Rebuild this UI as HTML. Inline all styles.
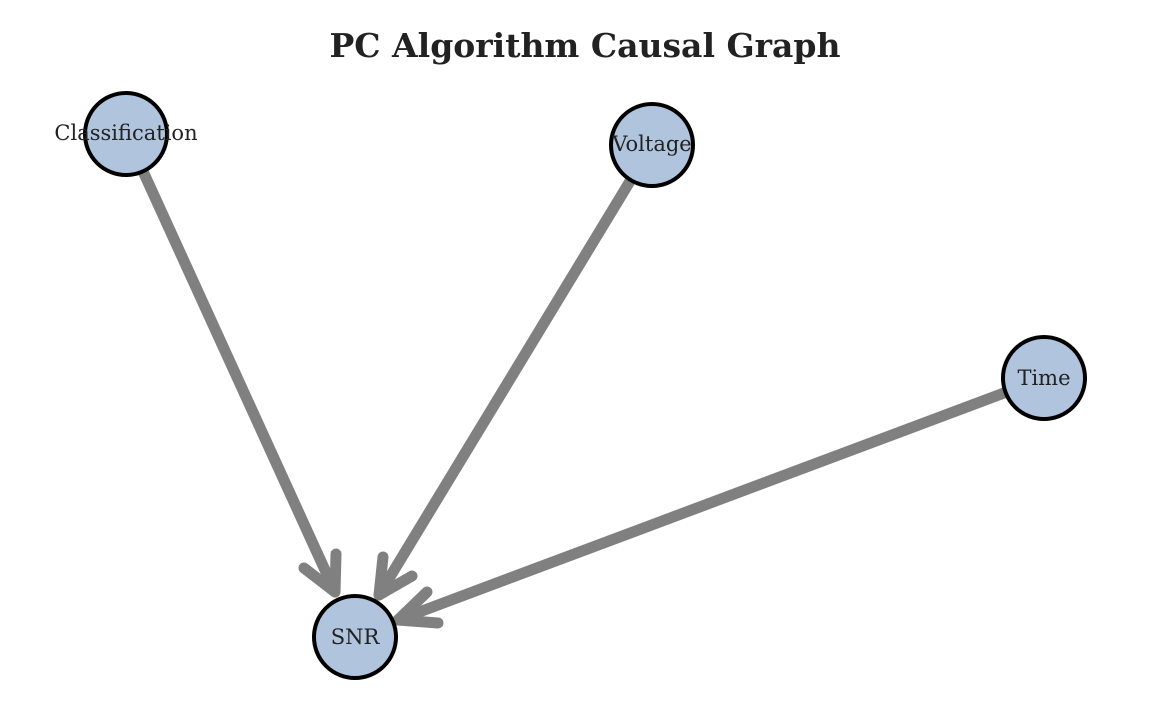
<!DOCTYPE html>
<html><head><meta charset="utf-8"><style>
html,body{margin:0;padding:0;background:#fff;}
svg{display:block;}
text{font-family:"DejaVu Serif","Liberation Serif",serif;fill:#222;}
</style></head><body>
<svg width="1170" height="720" viewBox="0 0 1170 720" xmlns="http://www.w3.org/2000/svg">
<text x="585" y="57" text-anchor="middle" font-size="33" font-weight="bold">PC Algorithm Causal Graph</text>
<g stroke="#808080" stroke-width="11" stroke-linecap="round" stroke-linejoin="round" fill="none">
<line x1="126" y1="134" x2="335" y2="592"/>
<polyline points="304,568 335,592 336,554"/>
<line x1="652" y1="145" x2="379" y2="595"/>
<polyline points="383,557 379,595 412,576"/>
<line x1="1044" y1="378" x2="398" y2="620"/>
<polyline points="427,592 398,620 438,623"/>
</g>
<g fill="#b0c4de" stroke="#000" stroke-width="4">
<circle cx="126" cy="134" r="41"/>
<circle cx="652" cy="145" r="41"/>
<circle cx="1044" cy="378" r="41"/>
<circle cx="355" cy="637" r="41"/>
</g>
<g font-size="21" text-anchor="middle">
<text x="126" y="140">Classification</text>
<text x="652" y="151">Voltage</text>
<text x="1044" y="385">Time</text>
<text x="355" y="644">SNR</text>
</g>
</svg>
</body></html>
